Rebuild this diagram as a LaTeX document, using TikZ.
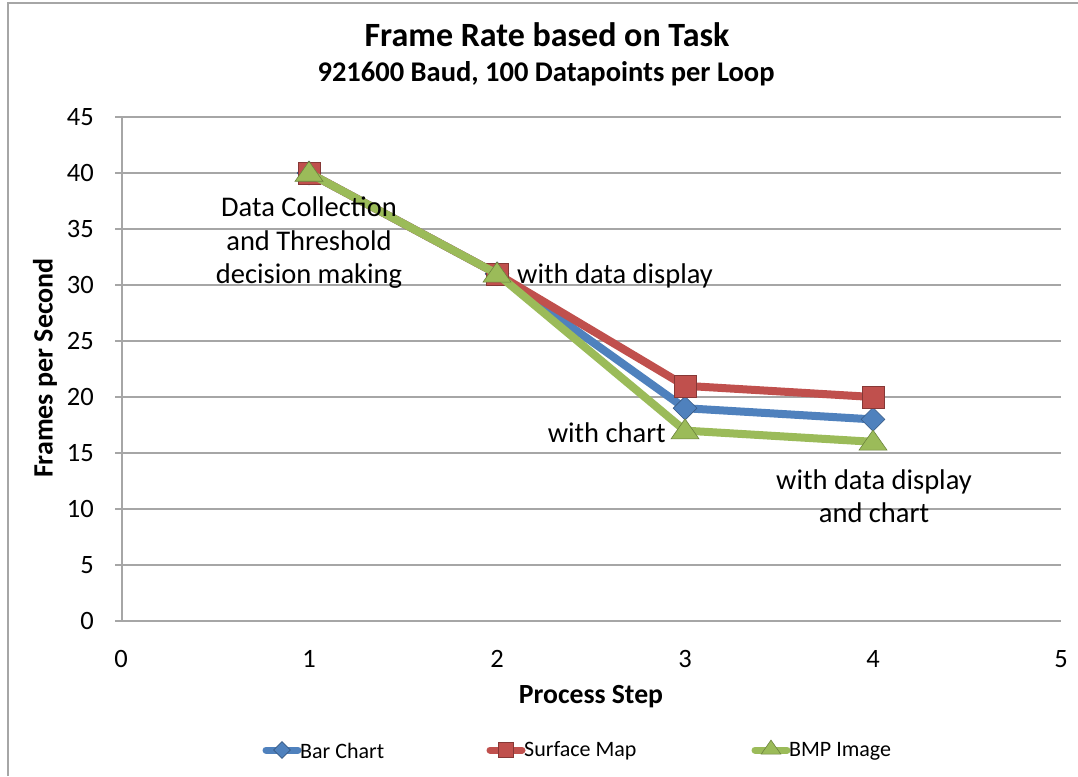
\documentclass[tikz,border=0pt]{standalone}
\usepackage{fontspec}
\setmainfont{Carlito}
\usetikzlibrary{shapes.geometric}
\definecolor{sblue}{HTML}{4F81BD}
\definecolor{sred}{HTML}{C0504D}
\definecolor{sgreen}{HTML}{9BBB59}
\definecolor{gridc}{HTML}{A6A6A6}
\tikzset{
  grid line/.style={draw=gridc, line width=1.4pt},
  series/.style={line width=8pt, line join=round},
  dmark/.style={diamond, fill=sblue, draw=sblue!70!black, line width=0.6pt, minimum width=24pt, minimum height=24pt, inner sep=0pt},
  smark/.style={rectangle, fill=sred, draw=sred!70!black, line width=0.6pt, minimum width=22pt, minimum height=22pt, inner sep=0pt},
  tmark/.style={isosceles triangle, isosceles triangle apex angle=70, shape border rotate=90, fill=sgreen, draw=sgreen!70!black, line width=0.6pt, minimum height=20pt, minimum width=25pt, inner sep=0pt},
  ticklab/.style={font=\fontsize{26.5}{30}\selectfont, inner sep=0pt},
  annot/.style={font=\fontsize{28.5}{33.5}\selectfont, align=center, inner sep=0pt},
  legtext/.style={font=\fontsize{22}{26}\selectfont, anchor=west, inner sep=0pt},
}
\begin{document}
\begin{tikzpicture}[x=1pt,y=-1pt]
\useasboundingbox (0,0) rectangle (1078,776);
\fill[white] (0,0) rectangle (1078,776);
% outer frame
\draw[gridc, line width=2pt] (7.5,776) -- (7.5,3.5) -- (1078,3.5);
% titles
\node[font=\bfseries\fontsize{34}{38}\selectfont] (title) at (547,35) {Frame Rate based on Task};
\node[font=\bfseries\fontsize{28.5}{32}\selectfont] (subtitle) at (546,74) {921600 Baud, 100 Datapoints per Loop};
% grid
\foreach \v in {5,10,...,45} {
  \draw[grid line] (115,{621-11.2*\v}) -- (1061,{621-11.2*\v});
}
\foreach \v in {0,5,...,45} {
  \node[ticklab, anchor=east] (yl\v) at (94,{621-11.2*\v}) {\v};
}
\draw[grid line] (115,621) -- (1061,621);
\draw[grid line] (122,117) -- (122,621);
\foreach \v in {0,...,5} {
  \node[ticklab, anchor=north] (xl\v) at ({121+188*\v},650) {\v};
}
% axis titles
\node[font=\bfseries\fontsize{28}{32}\selectfont, rotate=90] (ytitle) at (45,368) {Frames per Second};
\node[font=\bfseries\fontsize{27.7}{32}\selectfont] (xtitle) at (591,697) {Process Step};
% data coordinates
\foreach \n/\a/\b/\c/\d in {b/40/31/19/18, r/40/31/21/20, g/40/31/17/16} {
  \coordinate (\n1) at (309,{621-11.2*\a});
  \coordinate (\n2) at (497,{621-11.2*\b});
  \coordinate (\n3) at (685,{621-11.2*\c});
  \coordinate (\n4) at (873,{621-11.2*\d});
}
% blue series
\draw[series, sblue] (b1) -- (b2) -- (b3) -- (b4);
\foreach \i in {1,...,4} \node[dmark] (bm\i) at (b\i) {};
% red series
\draw[series, sred] (r1) -- (r2) -- (r3) -- (r4);
\foreach \i in {1,...,4} \node[smark] (rm\i) at (r\i) {};
% green series
\draw[series, sgreen] (g1) -- (g2) -- (g3) -- (g4);
\foreach \i in {1,...,4} \node[tmark] (gm\i) at ([yshift=-1pt]g\i) {};
% annotations
\node[annot] (a1) at (309,243) {Data Collection\\and Threshold\\decision making};
\node[annot, anchor=west] (a2) at (517,276) {with data display};
\node[annot, anchor=east] (a3) at (666,433) {with chart};
\node[annot] (a4) at (874,496) {with data display\\and chart};
% legend
\draw[series, sblue, line width=7pt, line cap=round] (266,750) -- (298,750);
\node[dmark, minimum width=17pt, minimum height=17pt] (lb) at (282,750) {};
\node[legtext] (lbt) at (300,751) {Bar Chart};
\draw[series, sred, line width=7pt, line cap=round] (490,750) -- (522,750);
\node[smark, minimum width=15pt, minimum height=15pt] (lr) at (506,750) {};
\node[legtext] (lrt) at (524,751) {Surface Map};
\draw[series, sgreen, line width=7pt, line cap=round] (755,750) -- (787,750);
\node[tmark, minimum height=14pt, minimum width=18pt] (lg) at (771,749) {};
\node[legtext] (lgt) at (789,751) {BMP Image};
\end{tikzpicture}
\end{document}
